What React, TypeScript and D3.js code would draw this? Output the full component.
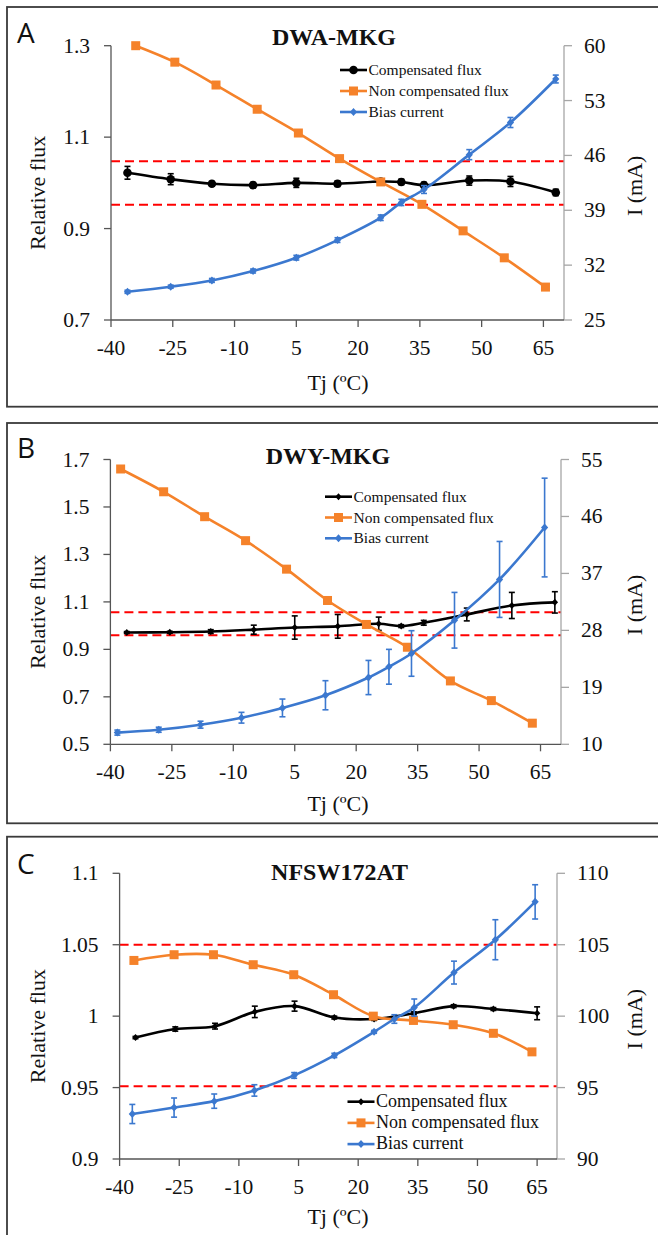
import React from 'react'
import * as d3 from 'd3'

const W = 658
const H = 1235
const ORANGE = '#f5822a'
const BLUE = '#3b78cf'
const SERIF = 'Liberation Serif, serif'

const tempTicks = [-40, -25, -10, 5, 20, 35, 50, 65]
const legendNames = ['Compensated flux', 'Non compensated flux', 'Bias current']

// Panel A: DWA-MKG
const aFluxTicks = [0.7, 0.9, 1.1, 1.3]
const aCurTicks = [25, 32, 39, 46, 53, 60]
const aLimits = [1.047, 0.952]
const aCompT = [-36, -25.5, -15.5, -5.5, 5, 15, 25.5, 30.5, 36, 47, 57, 68]
const aCompV = [1.022, 1.008, 0.998, 0.995, 1.0, 0.998, 1.003, 1.002, 0.995, 1.005, 1.003, 0.979]
const aCompE = [0.014, 0.012, 0.005, 0.006, 0.01, 0.006, 0.005, 0.006, 0.006, 0.01, 0.011, 0.007]
const aNonT = [-34, -24.5, -14.5, -4.5, 5.5, 15.5, 25.5, 35.5, 45.5, 55.5, 65.5]
const aNonV = [1.3, 1.264, 1.214, 1.161, 1.109, 1.053, 1.002, 0.953, 0.895, 0.836, 0.772]
const aBiasT = [-36, -25.5, -15.5, -5.5, 5, 15, 25.5, 30.5, 36, 47, 57, 68]
const aBiasV = [28.6, 29.25, 30.05, 31.25, 32.95, 35.2, 38.05, 40.0, 41.65, 46.1, 50.2, 55.75]
const aBiasE = [0.2, 0.2, 0.25, 0.25, 0.3, 0.3, 0.35, 0.4, 0.5, 0.64, 0.64, 0.5]

// Panel B: DWY-MKG
const bFluxTicks = [0.5, 0.7, 0.9, 1.1, 1.3, 1.5, 1.7]
const bCurTicks = [10, 19, 28, 37, 46, 55]
const bLimits = [1.056, 0.96]
const bCompT = [-36, -25.5, -15.5, -5, 5, 15.5, 25.5, 31, 36.5, 47, 58, 68.5]
const bCompV = [0.971, 0.972, 0.975, 0.983, 0.992, 0.997, 1.008, 0.998, 1.012, 1.047, 1.085, 1.098]
const bCompE = [0.004, 0.004, 0.008, 0.019, 0.049, 0.05, 0.028, 0.006, 0.01, 0.027, 0.055, 0.045]
const bNonT = [-37.5, -27, -17, -7, 3, 13, 22.5, 32.5, 43, 53, 63]
const bNonV = [1.66, 1.564, 1.459, 1.358, 1.238, 1.106, 1.005, 0.909, 0.767, 0.684, 0.589]
const bBiasT = [-38.3, -28.2, -18, -8, 2, 12.5, 23, 28, 33.5, 44, 55, 66]
const bBiasV = [11.85, 12.3, 13.1, 14.2, 15.75, 17.75, 20.55, 22.25, 24.35, 29.6, 36.05, 44.25]
const bBiasE = [0.4, 0.4, 0.55, 0.85, 1.4, 2.3, 2.7, 2.75, 3.6, 4.4, 6.0, 7.8]

// Panel C: NFSW172AT
const cFluxTicks = [0.9, 0.95, 1, 1.05, 1.1]
const cCurTicks = [90, 95, 100, 105, 110]
const cLimits = [1.05, 0.951]
const cCompT = [-36, -26, -16, -6, 4, 14, 24, 34, 44, 54, 65]
const cCompV = [0.985, 0.991, 0.993, 1.003, 1.007, 0.999, 0.998, 1.002, 1.007, 1.005, 1.002]
const cCompE = [0.0008, 0.0015, 0.002, 0.004, 0.0035, 0.001, 0.001, 0.001, 0.001, 0.001, 0.0045]
const cNonT = [-36.4, -26.3, -16.4, -6.4, 3.8, 13.8, 23.8, 33.9, 43.9, 54, 63.7]
const cNonV = [1.039, 1.043, 1.043, 1.036, 1.029, 1.015, 1.0, 0.997, 0.994, 0.988, 0.975]
const cBiasT = [-36.8, -26.3, -16.2, -6.1, 3.9, 14, 24, 29.1, 34.1, 44.1, 54.5, 64.5]
const cBiasV = [93.15, 93.6, 94.05, 94.8, 95.85, 97.25, 98.9, 99.8, 100.6, 103.05, 105.35, 108.0]
const cBiasE = [0.67, 0.67, 0.5, 0.4, 0.2, 0.15, 0.1, 0.3, 0.6, 0.8, 1.4, 1.2]

const panels = [
  {
    letter: 'A', title: 'DWA-MKG', boxTop: 7, boxBottom: 406.7,
    l: 111, r: 564, t: 45.7, b: 320,
    fluxDomain: [0.7, 1.3], fluxTicks: aFluxTicks, curDomain: [25, 60], curTicks: aCurTicks,
    limits: aLimits,
    comp: { t: aCompT, v: aCompV, e: aCompE }, non: { t: aNonT, v: aNonV }, bias: { t: aBiasT, v: aBiasV, e: aBiasE },
    compMarker: 'circle', titleX: 334, titleY: 45, letterY: 43,
    legX: 340, legY: 70, legDy: 21, legFs: 15.5, xTitleDy: 70,
  },
  {
    letter: 'B', title: 'DWY-MKG', boxTop: 423, boxBottom: 823.3,
    l: 110.4, r: 561, t: 459.5, b: 744.3,
    fluxDomain: [0.5, 1.7], fluxTicks: bFluxTicks, curDomain: [10, 55], curTicks: bCurTicks,
    limits: bLimits,
    comp: { t: bCompT, v: bCompV, e: bCompE }, non: { t: bNonT, v: bNonV }, bias: { t: bBiasT, v: bBiasV, e: bBiasE },
    compMarker: 'dot', titleX: 328, titleY: 464, letterY: 458,
    legX: 325, legY: 496.7, legDy: 20.8, legFs: 15.5, xTitleDy: 67,
  },
  {
    letter: 'C', title: 'NFSW172AT', boxTop: 836.7, boxBottom: 1250,
    l: 119.6, r: 557, t: 873.3, b: 1159,
    fluxDomain: [0.9, 1.1], fluxTicks: cFluxTicks, curDomain: [90, 110], curTicks: cCurTicks,
    limits: cLimits,
    comp: { t: cCompT, v: cCompV, e: cCompE }, non: { t: cNonT, v: cNonV }, bias: { t: cBiasT, v: cBiasV, e: cBiasE },
    compMarker: 'dot', titleX: 339.5, titleY: 880, letterY: 874,
    legX: 347.5, legY: 1101.7, legDy: 21.2, legFs: 18, xTitleDy: 65,
  },
]

function Marker({ kind, x, y, color }: { kind: string; x: number; y: number; color: string }) {
  if (kind === 'circle') return <circle cx={x} cy={y} r={4.3} fill={color} />
  if (kind === 'dot') return <path d={`M${x},${y - 3.5}L${x + 3.2},${y}L${x},${y + 3.5}L${x - 3.2},${y}Z`} fill={color} />
  if (kind === 'square') return <rect x={x - 4.5} y={y - 4.5} width={9} height={9} fill={color} />
  return <path d={`M${x},${y - 4}L${x + 3.6},${y}L${x},${y + 4}L${x - 3.6},${y}Z`} fill={color} />
}

function Panel({ p }: { p: any }) {
  const x = d3.scaleLinear().domain([-40, 70]).range([p.l, p.r])
  const yL = d3.scaleLinear().domain(p.fluxDomain).range([p.b, p.t])
  const yR = d3.scaleLinear().domain(p.curDomain).range([p.b, p.t])
  const line = d3.line<[number, number]>().curve(d3.curveCatmullRom.alpha(0.5))

  const series = [
    { s: p.comp, y: yL, color: '#000', marker: p.compMarker },
    { s: p.non, y: yL, color: ORANGE, marker: 'square' },
    { s: p.bias, y: yR, color: BLUE, marker: 'diamond' },
  ]
  const midY = (p.t + p.b) / 2
  const fmt = (v: number) => String(+v.toFixed(2))
  const txt = { fontFamily: SERIF, fill: '#111' }

  return (
    <g>
      <rect x={7} y={p.boxTop} width={680} height={p.boxBottom - p.boxTop} fill="none" stroke="#3a3a3a" strokeWidth={1.8} />
      <text x={17} y={p.letterY} style={{ fontFamily: 'Open Sans, Liberation Sans, sans-serif' }} fontSize={28} fill="#111">{p.letter}</text>
      <text x={p.titleX} y={p.titleY} textAnchor="middle" style={txt} fontWeight="bold" fontSize={24}>{p.title}</text>

      {/* limit lines */}
      {p.limits.map((v: number, i: number) => (
        <line key={i} x1={p.l} x2={p.r} y1={yL(v)} y2={yL(v)} stroke="#ff0000" strokeWidth={2} strokeDasharray="9,5" />
      ))}

      {/* axes */}
      <line x1={p.l} x2={p.l} y1={p.t} y2={p.b} stroke="#555" strokeWidth={1.3} />
      <line x1={p.r} x2={p.r} y1={p.t} y2={p.b} stroke="#a6a6a6" strokeWidth={1.3} />
      <line x1={p.l} x2={p.r} y1={p.b} y2={p.b} stroke="#555" strokeWidth={1.3} />
      {p.fluxTicks.map((v: number) => (
        <g key={'l' + v}>
          <line x1={p.l - 7} x2={p.l} y1={yL(v)} y2={yL(v)} stroke="#555" strokeWidth={1.3} />
          <text x={p.l - 21} y={yL(v) + 7} textAnchor="end" style={txt} fontSize={21.5}>{fmt(v)}</text>
        </g>
      ))}
      {p.curTicks.map((v: number) => (
        <g key={'r' + v}>
          <line x1={p.r} x2={p.r + 8} y1={yR(v)} y2={yR(v)} stroke="#a6a6a6" strokeWidth={1.3} />
          <text x={p.r + 20} y={yR(v) + 7} style={txt} fontSize={21.5}>{v}</text>
        </g>
      ))}
      {tempTicks.map((v) => (
        <g key={'x' + v}>
          <line x1={x(v)} x2={x(v)} y1={p.b} y2={p.b + 7} stroke="#555" strokeWidth={1.3} />
          <text x={x(v)} y={p.b + 35} textAnchor="middle" style={txt} fontSize={21.5}>{v}</text>
        </g>
      ))}
      <text x={338} y={p.b + p.xTitleDy} textAnchor="middle" style={txt} fontSize={22}>Tj (ºC)</text>
      <text transform={`translate(45,${midY + 10}) rotate(-90)`} textAnchor="middle" style={txt} fontSize={22}>Relative flux</text>
      <text transform={`translate(642,${midY + 3}) rotate(-90)`} textAnchor="middle" style={txt} fontSize={22}>I (mA)</text>

      {/* series */}
      {series.map((d, k) => {
        const pts: [number, number][] = d.s.t.map((t: number, i: number) => [x(t), d.y(d.s.v[i])])
        return (
          <g key={k}>
            <path d={line(pts) || ''} fill="none" stroke={d.color} strokeWidth={2.6} />
            {d.s.e && d.s.t.map((t: number, i: number) => {
              const cx = x(t)
              const y1 = d.y(d.s.v[i] - d.s.e[i])
              const y2 = d.y(d.s.v[i] + d.s.e[i])
              return (
                <g key={i} stroke={d.color} strokeWidth={1.6}>
                  <line x1={cx} x2={cx} y1={y1} y2={y2} />
                  <line x1={cx - 3} x2={cx + 3} y1={y1} y2={y1} />
                  <line x1={cx - 3} x2={cx + 3} y1={y2} y2={y2} />
                </g>
              )
            })}
            {pts.map((pt, i) => <Marker key={i} kind={d.marker} x={pt[0]} y={pt[1]} color={d.color} />)}
          </g>
        )
      })}

      {/* legend */}
      {series.map((d, k) => {
        const ly = p.legY + k * p.legDy
        return (
          <g key={'lg' + k}>
            <line x1={p.legX} x2={p.legX + 27} y1={ly} y2={ly} stroke={d.color} strokeWidth={2.6} />
            <Marker kind={d.marker} x={p.legX + 13.5} y={ly} color={d.color} />
            <text x={p.legX + 28.5} y={ly + 5} style={txt} fontSize={p.legFs}>{legendNames[k]}</text>
          </g>
        )
      })}
    </g>
  )
}

export default function App() {
  return (
    <div style={{ position: 'absolute', left: 0, top: 0 }}>
      <svg width={W} height={H} style={{ display: 'block', background: '#fff' }}>
        <rect width={W} height={H} fill="#fff" />
        {panels.map((p) => <Panel key={p.letter} p={p} />)}
      </svg>
    </div>
  )
}
